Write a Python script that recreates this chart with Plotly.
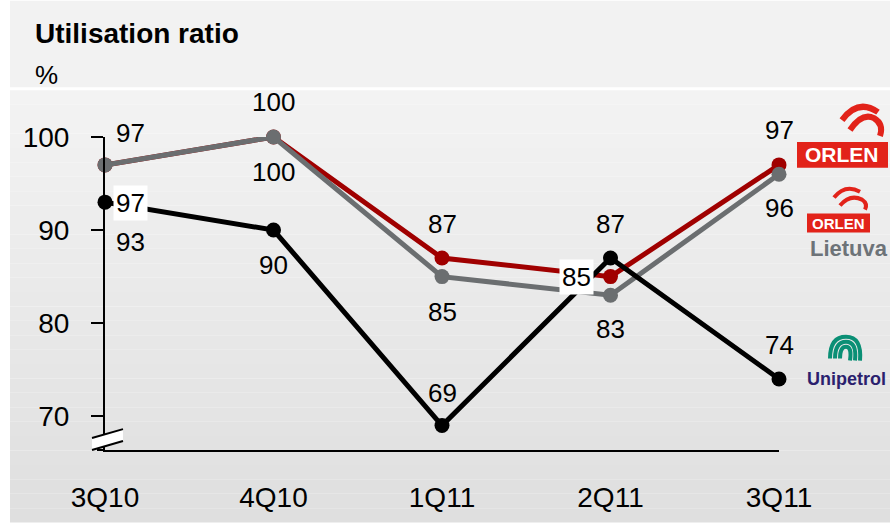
import plotly.graph_objects as go

# ---- data ----
quarters = ["3Q10", "4Q10", "1Q11", "2Q11", "3Q11"]
orlen = [97, 100, 87, 85, 97]
lietuva = [97, 100, 85, 83, 96]
unipetrol = [93, 90, 69, 87, 74]
y_ticks = [70, 80, 90, 100]

W, H = 890, 525
L, R, T, B = 105, 111, 137, 73
PW, PH = W - L - R, H - T - B

def xp(px):
    return (px - L) / PW

def yp(py):
    return (H - B - py) / PH

RED = "#a00000"
GRAY = "#6b6e70"
BLACK = "#000000"
FONT = "Liberation Sans, Arial, sans-serif"

fig = go.Figure()

for name, vals, col in [("PKN ORLEN", orlen, RED), ("ORLEN Lietuva", lietuva, GRAY), ("Unipetrol", unipetrol, BLACK)]:
    fig.add_trace(go.Scatter(
        x=quarters, y=vals, mode="lines+markers", name=name,
        line=dict(color=col, width=5),
        marker=dict(color=col, size=15),
        cliponaxis=False, showlegend=False, hoverinfo="x+y+name",
    ))

# ---- data labels (offsets in px) ----
label_specs = [
    (orlen, [(25, 38), (0, -35), (0, -34), (-34, 0), (0, -35)], (0, 3)),
    (lietuva, [(25, -32), (0, 35), (0, 35), (0, 34), (0, 34)], ()),
    (unipetrol, [(25, 40), (0, 35), (0, -33), (0, -34), (0, -34)], ()),
]
for vals, offs, boxed_idx in label_specs:
    for i, (q, v) in enumerate(zip(quarters, vals)):
        dx, dy = offs[i]
        boxed = i in boxed_idx
        fig.add_annotation(
            x=q, y=v, xref="x", yref="y", text=str(v), showarrow=False,
            xshift=dx, yshift=-dy,
            font=dict(family=FONT, size=26, color="black"),
            bgcolor="white" if boxed else "rgba(0,0,0,0)", borderpad=2,
        )

shapes = []
# top band
shapes.append(dict(type="rect", xref="paper", yref="paper", x0=xp(10), x1=xp(W), y0=yp(87), y1=yp(0),
                   fillcolor="#f2f2f2", line=dict(width=0), layer="below"))
# gradient body
n = 30
y_start, y_end = 90, H
for k in range(n):
    a = y_start + (y_end - y_start) * k / n
    b = y_start + (y_end - y_start) * (k + 1) / n
    t = k / (n - 1)
    c = int(round(243 - t * 20))
    shapes.append(dict(type="rect", xref="paper", yref="paper", x0=xp(10), x1=xp(W), y0=yp(b), y1=yp(a),
                       fillcolor=f"rgb({c},{c},{c})", line=dict(width=0), layer="below"))

# axis break
def path(pts, close=False):
    s = "M " + " L ".join(f"{xp(x):.5f},{yp(y):.5f}" for x, y in pts)
    return s + (" Z" if close else "")

shapes.append(dict(type="path", xref="paper", yref="paper",
                   path=path([(92, 440), (123, 431), (123, 443), (92, 452)], True),
                   fillcolor="white", line=dict(width=0), layer="above"))
shapes.append(dict(type="path", xref="paper", yref="paper", path=path([(92, 440), (123, 431)]),
                   line=dict(color="black", width=2), layer="above"))
shapes.append(dict(type="path", xref="paper", yref="paper", path=path([(92, 452), (123, 443)]),
                   line=dict(color="black", width=2), layer="above"))
# x axis line extension to left
shapes.append(dict(type="line", xref="paper", yref="paper", x0=xp(97), x1=xp(105), y0=yp(452), y1=yp(452),
                   line=dict(color="black", width=2), layer="above"))

# ---- logos (approximations) ----
def qpath(pts):
    s = f"M {xp(pts[0][0]):.5f},{yp(pts[0][1]):.5f}"
    for i in range(1, len(pts), 2):
        c, e = pts[i], pts[i + 1]
        s += f" Q {xp(c[0]):.5f},{yp(c[1]):.5f} {xp(e[0]):.5f},{yp(e[1]):.5f}"
    return s

# ORLEN bird
shapes.append(dict(type="path", xref="paper", yref="paper",
                   path=qpath([(842, 120), (858, 98), (878, 112)]), line=dict(color="#e2231a", width=6)))
shapes.append(dict(type="path", xref="paper", yref="paper",
                   path=qpath([(850, 130), (862, 112), (874, 118), (884, 124), (880, 136)]), line=dict(color="#e2231a", width=6)))
shapes.append(dict(type="rect", xref="paper", yref="paper", x0=xp(797), x1=xp(888), y0=yp(168), y1=yp(142),
                   fillcolor="#e2231a", line=dict(width=0)))
# Lietuva bird
shapes.append(dict(type="path", xref="paper", yref="paper",
                   path=qpath([(834, 198), (845, 184), (860, 192)]), line=dict(color="#e2231a", width=4)))
shapes.append(dict(type="path", xref="paper", yref="paper",
                   path=qpath([(840, 206), (850, 194), (862, 200), (868, 204), (865, 210)]), line=dict(color="#e2231a", width=4)))
shapes.append(dict(type="rect", xref="paper", yref="paper", x0=xp(807), x1=xp(870), y0=yp(233), y1=yp(214),
                   fillcolor="#e2231a", line=dict(width=0)))
# Unipetrol symbol: concentric arcs
for r_, w_ in [(16, 4), (11, 4), (6, 4)]:
    cx, cy = 846, 354
    shapes.append(dict(type="path", xref="paper", yref="paper",
                       path=qpath([(cx - r_, cy + 6), (cx - r_, cy - r_), (cx, cy - r_), (cx + r_, cy - r_), (cx + r_ - 2, cy + 8)]),
                       line=dict(color="#0a8f75", width=w_)))

annotations_extra = [
    dict(text="<b>ORLEN</b>", x=xp(842), y=yp(155), font=dict(family="Liberation Sans, Arial", size=21, color="white")),
    dict(text="<b>ORLEN</b>", x=xp(838), y=yp(224), font=dict(family="Liberation Sans, Arial", size=15, color="white")),
    dict(text="<b>Lietuva</b>", x=xp(808), y=yp(249), xanchor="left", font=dict(family="Liberation Sans, Arial", size=22, color="#6d7378")),
    dict(text="<b>Unipetrol</b>", x=xp(846), y=yp(381), font=dict(family="Liberation Sans, Arial", size=18, color="#2b1f6e")),
    dict(text="<b>Utilisation ratio</b>", x=xp(33), y=yp(33), xanchor="left", font=dict(family="Liberation Sans, Arial", size=28, color="black")),
    dict(text="%", x=xp(33), y=yp(75), xanchor="left", font=dict(family="Liberation Sans, Arial", size=26, color="black")),
]
for a in annotations_extra:
    a.setdefault("xanchor", "center")
    fig.add_annotation(xref="paper", yref="paper", showarrow=False, yanchor="middle", **a)

fig.update_layout(
    width=W, height=H, autosize=False,
    margin=dict(l=L, r=R, t=T, b=B, pad=0),
    paper_bgcolor="white", plot_bgcolor="rgba(0,0,0,0)",
    shapes=shapes, showlegend=False,
    font=dict(family=FONT, color="black"),
    xaxis=dict(range=[0, 4], showgrid=False, zeroline=False, showline=True, linecolor="black", linewidth=2,
               ticks="", tickfont=dict(family=FONT, size=28, color="black"), ticklabelstandoff=21),
    yaxis=dict(range=[100 - (100 - 70) * PH / (418 - 137), 100], showgrid=False, zeroline=False, showline=True,
               linecolor="black", linewidth=2, ticks="outside", ticklen=12, tickwidth=2, tickcolor="black",
               tickvals=y_ticks, tickfont=dict(family=FONT, size=28, color="black"), ticklabelstandoff=16),
)

fig.write_html("out.html", config={"displayModeBar": False},
               post_script="document.body.style.margin='0';document.body.style.overflow='hidden';")
